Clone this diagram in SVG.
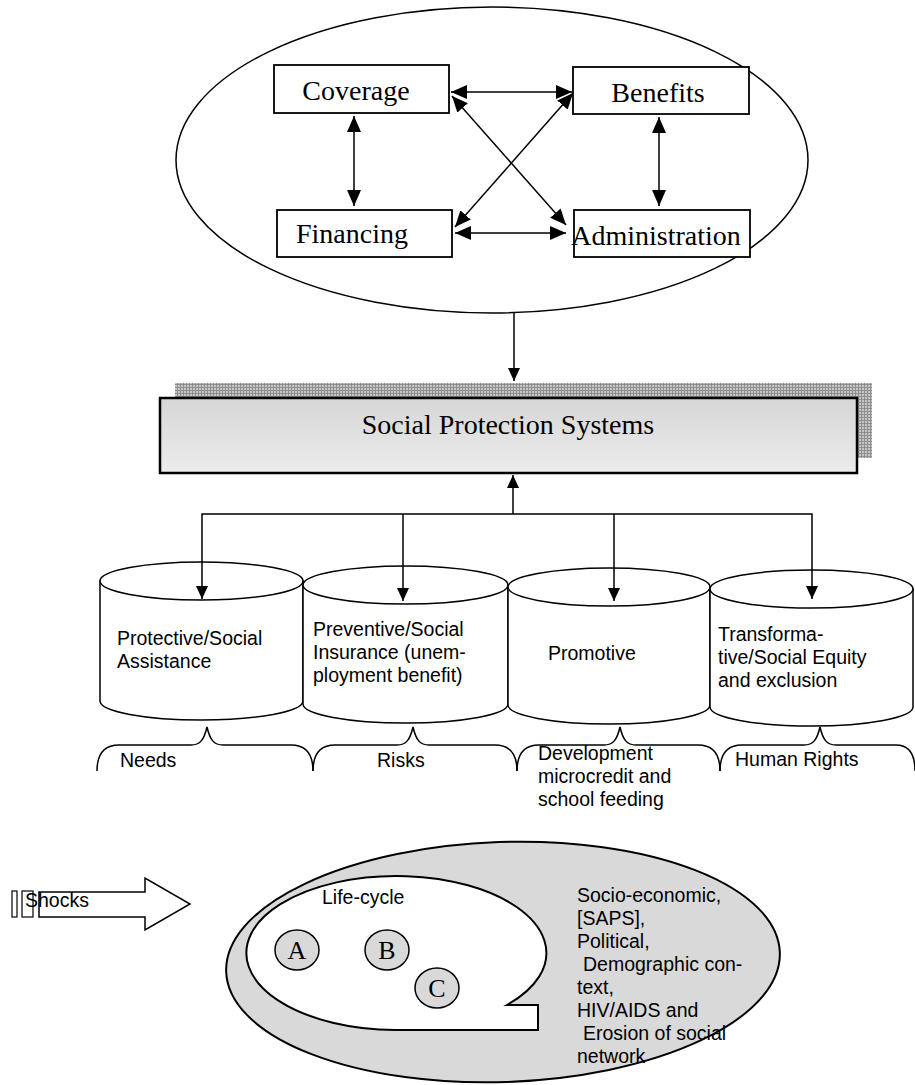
<svg xmlns="http://www.w3.org/2000/svg" width="915" height="1085" viewBox="0 0 915 1085">
<style>
.serif{font-family:"Liberation Serif","Times New Roman",serif;fill:#000}
.sans{font-family:"Liberation Sans",Arial,sans-serif;font-size:19.5px;fill:#000}
.box{fill:#fff;stroke:#000;stroke-width:1.8}
.ln{fill:none;stroke:#000;stroke-width:1.5}
.cyl{fill:#fff;stroke:#000;stroke-width:1.5}
.brace{fill:none;stroke:#000;stroke-width:1.5}
.circ{fill:#d9d9d9;stroke:#000;stroke-width:1.5}
</style>
<defs>
<marker id="ah" markerUnits="userSpaceOnUse" markerWidth="16" markerHeight="14" refX="16" refY="7" orient="auto-start-reverse"><path d="M0,0 L16,7 L0,14 z" fill="#000"/></marker>
<marker id="as" markerUnits="userSpaceOnUse" markerWidth="13" markerHeight="12" refX="13" refY="6" orient="auto-start-reverse"><path d="M0,0 L13,6 L0,12 z" fill="#000"/></marker>
<pattern id="grid" width="3" height="3" patternUnits="userSpaceOnUse"><rect width="3" height="3" fill="#c6c6c6"/><path d="M0,0.5H3M0.5,0V3" stroke="#8e8e8e" stroke-width="1"/></pattern>
<linearGradient id="sg" x1="0" y1="0" x2="0" y2="1"><stop offset="0" stop-color="#d6d6d6"/><stop offset="1" stop-color="#ececec"/></linearGradient>
</defs>

<g id="frame-top">
<ellipse cx="492" cy="160" rx="316" ry="153" fill="#fff" stroke="#000" stroke-width="1.5"/>
</g>

<g id="coverage"><rect class="box" x="274" y="65" width="175" height="48"/><text class="serif" x="356" y="100" font-size="28" text-anchor="middle">Coverage</text></g>
<g id="benefits"><rect class="box" x="573" y="67" width="176" height="47"/><text class="serif" x="658" y="102" font-size="28" text-anchor="middle">Benefits</text></g>
<g id="financing"><rect class="box" x="277" y="210" width="175" height="47"/><text class="serif" x="352" y="243" font-size="28" text-anchor="middle">Financing</text></g>
<g id="administration"><rect class="box" x="574" y="210" width="176" height="47"/><text class="serif" x="656" y="245" font-size="28" text-anchor="middle">Administration</text></g>

<g id="sps">
<rect x="175" y="383" width="697" height="75" fill="url(#grid)"/>
<rect x="160" y="398" width="697" height="75" fill="url(#sg)" stroke="#000" stroke-width="2.5"/>
<text class="serif" x="508" y="434" font-size="28" text-anchor="middle">Social Protection Systems</text>
</g>

<g id="cyl-protective">
<path class="cyl" d="M100,581 L100,701 A101.5,19 0 0,0 303,701 L303,581 Z"/>
<ellipse class="cyl" cx="201.5" cy="581" rx="101.5" ry="19"/>
<text class="sans" x="117" y="645">Protective/Social</text>
<text class="sans" x="117" y="668">Assistance</text>
</g>
<g id="cyl-preventive">
<path class="cyl" d="M303,585 L303,704 A102.5,19 0 0,0 508,704 L508,585 Z"/>
<ellipse class="cyl" cx="405.5" cy="585" rx="102.5" ry="19"/>
<text class="sans" x="313" y="636">Preventive/Social</text>
<text class="sans" x="313" y="659">Insurance (unem-</text>
<text class="sans" x="313" y="682">ployment benefit)</text>
</g>
<g id="cyl-promotive">
<path class="cyl" d="M508,587 L508,705 A101,19 0 0,0 710,705 L710,587 Z"/>
<ellipse class="cyl" cx="609" cy="587" rx="101" ry="19"/>
<text class="sans" x="548" y="660">Promotive</text>
</g>
<g id="cyl-transformative">
<path class="cyl" d="M710,589 L710,707 A101.5,19 0 0,0 913,707 L913,589 Z"/>
<ellipse class="cyl" cx="811.5" cy="589" rx="101.5" ry="19"/>
<text class="sans" x="718" y="641">Transforma-</text>
<text class="sans" x="718" y="664">tive/Social Equity</text>
<text class="sans" x="718" y="687">and exclusion</text>
</g>

<g id="braces">
<path class="brace" d="M97,771 C97,756 103,745 119,745 L191,745 C200,745 204,740 207,727 C210,740 214,745 223,745 L291,745 C307,745 313,756 313,771"/>
<path class="brace" d="M313,771 C313,756 319,745 335,745 L397,745 C406,745 410,740 413,727 C416,740 420,745 429,745 L495,745 C511,745 517,756 517,771"/>
<path class="brace" d="M517,771 C517,756 523,745 539,745 L604,745 C613,745 617,740 620,727 C623,740 627,745 636,745 L698,745 C714,745 720,756 720,771"/>
<path class="brace" d="M720,771 C720,756 726,745 742,745 L804,745 C813,745 817,740 820,727 C823,740 827,745 836,745 L896,745 C910,745 915,756 915,771"/>
</g>
<g id="brace-labels">
<text class="sans" x="120" y="767">Needs</text>
<text class="sans" x="377" y="767">Risks</text>
<text class="sans" x="538" y="760">Development</text>
<text class="sans" x="538" y="783">microcredit and</text>
<text class="sans" x="538" y="806">school feeding</text>
<text class="sans" x="735" y="766">Human Rights</text>
</g>

<g id="shocks">
<rect x="12" y="891" width="5" height="26" fill="#fff" stroke="#000" stroke-width="1.2"/>
<rect x="22" y="891" width="11" height="26" fill="#fff" stroke="#000" stroke-width="1.2"/>
<polygon points="39,892 145,892 145,878 190,904 145,930 145,917 39,917" fill="#fff" stroke="#000" stroke-width="1.5"/>
<text class="sans" x="25" y="907">Shocks</text>
</g>

<g id="context">
<ellipse cx="503" cy="962" rx="277" ry="120" transform="rotate(-2 503 962)" fill="#d9d9d9" stroke="#000" stroke-width="2"/>
<path d="M538,1005 L507,1005 A150,77 0 1,0 395,1030 L538,1030 Z" fill="#fff" stroke="#000" stroke-width="2"/>
<text class="sans" x="322" y="904">Life-cycle</text>
<text class="sans" x="577" y="902">Socio-economic,</text>
<text class="sans" x="577" y="925">[SAPS],</text>
<text class="sans" x="577" y="948">Political,</text>
<text class="sans" x="583" y="971">Demographic con-</text>
<text class="sans" x="577" y="994">text,</text>
<text class="sans" x="577" y="1017">HIV/AIDS and</text>
<text class="sans" x="583" y="1040">Erosion of social</text>
<text class="sans" x="577" y="1063">network</text>
</g>
<g id="circle-a"><ellipse class="circ" cx="297" cy="950" rx="22" ry="20"/><text class="serif" x="297" y="959" font-size="26" text-anchor="middle">A</text></g>
<g id="circle-b"><ellipse class="circ" cx="387" cy="950" rx="22" ry="20"/><text class="serif" x="387" y="959" font-size="26" text-anchor="middle">B</text></g>
<g id="circle-c"><ellipse class="circ" cx="437" cy="988" rx="22" ry="20"/><text class="serif" x="437" y="997" font-size="26" text-anchor="middle">C</text></g>

<g id="connectors">
<line class="ln" x1="451" y1="92" x2="572" y2="92" marker-start="url(#ah)" marker-end="url(#ah)"/>
<line class="ln" x1="354" y1="116" x2="354" y2="206" marker-start="url(#ah)" marker-end="url(#ah)"/>
<line class="ln" x1="659" y1="117" x2="659" y2="206" marker-start="url(#ah)" marker-end="url(#ah)"/>
<line class="ln" x1="455" y1="233" x2="566" y2="233" marker-start="url(#ah)" marker-end="url(#ah)"/>
<line class="ln" x1="452" y1="96" x2="566" y2="225" marker-start="url(#ah)" marker-end="url(#ah)"/>
<line class="ln" x1="573" y1="93" x2="455" y2="227" marker-start="url(#ah)" marker-end="url(#ah)"/>
<line class="ln" x1="514" y1="313" x2="514" y2="381" marker-end="url(#as)"/>
<line class="ln" x1="513" y1="514" x2="513" y2="475" marker-end="url(#as)"/>
<polyline class="ln" points="202,599 202,514 812,514 812,599" marker-start="url(#as)" marker-end="url(#as)"/>
<line class="ln" x1="403" y1="514" x2="403" y2="601" marker-end="url(#as)"/>
<line class="ln" x1="614" y1="514" x2="614" y2="601" marker-end="url(#as)"/>
</g>
</svg>
